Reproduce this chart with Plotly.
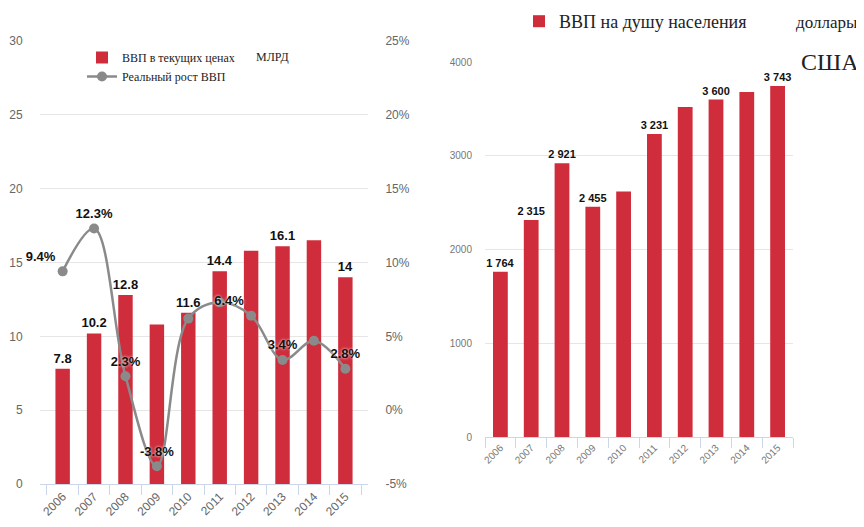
import plotly.graph_objects as go

years = ["2006", "2007", "2008", "2009", "2010", "2011", "2012", "2013", "2014", "2015"]
gdp_bln = [7.8, 10.2, 12.8, 10.8, 11.6, 14.4, 15.8, 16.1, 16.5, 14.0]
gdp_bln_show = [1, 1, 1, 0, 1, 1, 0, 1, 0, 1]
real_growth = [9.4, 12.3, 2.3, -3.8, 6.2, 7.3, 6.4, 3.4, 4.7, 2.8]
real_growth_show = [1, 1, 1, 1, 0, 0, 1, 1, 0, 1]
gdp_pc = [1764, 2315, 2921, 2455, 2620, 3231, 3520, 3600, 3680, 3743]
gdp_pc_show = [1, 1, 1, 1, 0, 1, 0, 1, 0, 1]
left_ticks = [0, 5, 10, 15, 20, 25, 30]
pct_ticks = [-5, 0, 5, 10, 15, 20, 25]
pc_ticks = [0, 1000, 2000, 3000, 4000]

RED = "#cf2d3c"
GREY_LINE = "#8a8a8a"
GRID = "#e6e6e6"
AXIS = "#ccd6eb"
TICKFONT = "#666666"
SANS = "Liberation Sans, Arial, sans-serif"
SERIF = "Liberation Serif, Times New Roman, serif"

# page body has an 8px margin; figure is sized to the visible area
OFF = 8
W, H = 864 - OFF, 527 - OFF


def px(x):
    return (x - OFF) / W


def py(y):
    return (H - (y - OFF)) / H


bar_text = [("%g" % v) if s else "" for v, s in zip(gdp_bln, gdp_bln_show)]
line_text = [("%.1f%%" % v) if s else "" for v, s in zip(real_growth, real_growth_show)]
line_pos = ["top left", "top center", "top center", "top center", "top center",
            "top center", "top left", "top center", "top center", "top center"]
pc_text = [f"{v:,}".replace(",", " ") if s else "" for v, s in zip(gdp_pc, gdp_pc_show)]

fig = go.Figure()

fig.add_trace(go.Bar(
    x=years, y=gdp_bln, name="ВВП в текущих ценах", marker_color=RED,
    width=0.46, text=bar_text, textposition="outside", cliponaxis=False,
    constraintext="none",
    textfont=dict(family=SANS, size=13, color="#111111", weight="bold"),
    xaxis="x", yaxis="y", legend="legend",
))
fig.add_trace(go.Scatter(
    x=years, y=real_growth, name="Реальный рост ВВП", mode="lines+markers+text",
    line=dict(color=GREY_LINE, width=2.5, shape="spline", smoothing=1.0),
    marker=dict(color=GREY_LINE, size=10),
    text=line_text, textposition=line_pos, cliponaxis=False,
    textfont=dict(family=SANS, size=13, color="#111111", weight="bold", shadow="0px 0px 3px white"),
    xaxis="x", yaxis="y2", legend="legend",
))
fig.add_trace(go.Bar(
    x=years, y=gdp_pc, name="ВВП на душу населения", marker_color=RED,
    width=0.48, text=pc_text, textposition="outside", cliponaxis=False,
    constraintext="none",
    textfont=dict(family=SANS, size=11, color="#111111", weight="bold"),
    xaxis="x2", yaxis="y3", legend="legend2",
))

xcommon = dict(
    type="category", showgrid=False, showline=True, linecolor=AXIS, linewidth=1,
    ticks="outside", tickson="boundaries", ticklen=10, tickcolor=AXIS,
    tickangle=-45, zeroline=False, automargin=False,
)

fig.update_layout(
    template="none",
    width=W, height=H,
    margin=dict(l=0, r=0, t=0, b=0, autoexpand=False),
    paper_bgcolor="white", plot_bgcolor="white",
    xaxis=dict(domain=[px(40), px(368)], anchor="y",
               tickfont=dict(family=SANS, size=12, color=TICKFONT), **xcommon),
    yaxis=dict(domain=[py(484), py(41)], range=[0, 30], tickvals=left_ticks,
               showgrid=True, gridcolor=GRID, gridwidth=1, zeroline=False, showline=False,
               ticks="outside", ticklen=14, tickcolor="rgba(0,0,0,0)", automargin=False,
               tickfont=dict(family=SANS, size=12, color=TICKFONT)),
    yaxis2=dict(overlaying="y", side="right", anchor="x", range=[-5, 25],
                tickvals=pct_ticks, ticktext=[f"{v}%" for v in pct_ticks],
                showgrid=False, zeroline=False, showline=False, automargin=False,
                ticks="outside", ticklen=14, tickcolor="rgba(0,0,0,0)",
                tickfont=dict(family=SANS, size=12, color=TICKFONT)),
    xaxis2=dict(domain=[px(485), px(793)], anchor="y3",
                tickfont=dict(family=SANS, size=10, color="#777777"), **xcommon),
    yaxis3=dict(domain=[py(437), py(62)], anchor="x2", range=[0, 4000],
                tickvals=pc_ticks, automargin=False,
                showgrid=True, gridcolor=GRID, gridwidth=1, zeroline=False, showline=False,
                ticks="outside", ticklen=10, tickcolor="rgba(0,0,0,0)",
                tickfont=dict(family=SANS, size=10, color="#777777")),
    legend=dict(x=px(82), y=py(43), xanchor="left", yanchor="top",
                bgcolor="rgba(0,0,0,0)", tracegroupgap=0,
                font=dict(family=SERIF, size=12, color="#222222")),
    legend2=dict(x=px(519), y=py(3), xanchor="left", yanchor="top",
                 bgcolor="rgba(0,0,0,0)",
                 font=dict(family=SERIF, size=18, color="#222222")),
    showlegend=True,
)

fig.add_annotation(text="МЛРД", x=px(254), y=py(57), xref="paper", yref="paper",
                   xanchor="left", yanchor="middle", showarrow=False,
                   font=dict(family=SERIF, size=12, color="#222222"))
fig.add_annotation(text="доллары", x=px(794), y=py(22), xref="paper", yref="paper",
                   xanchor="left", yanchor="middle", showarrow=False,
                   font=dict(family=SERIF, size=17, color="#222222"))
fig.add_annotation(text="США", x=px(799), y=py(62), xref="paper", yref="paper",
                   xanchor="left", yanchor="middle", showarrow=False,
                   font=dict(family=SERIF, size=24, color="#222222"))

fig.write_html("out.html")
